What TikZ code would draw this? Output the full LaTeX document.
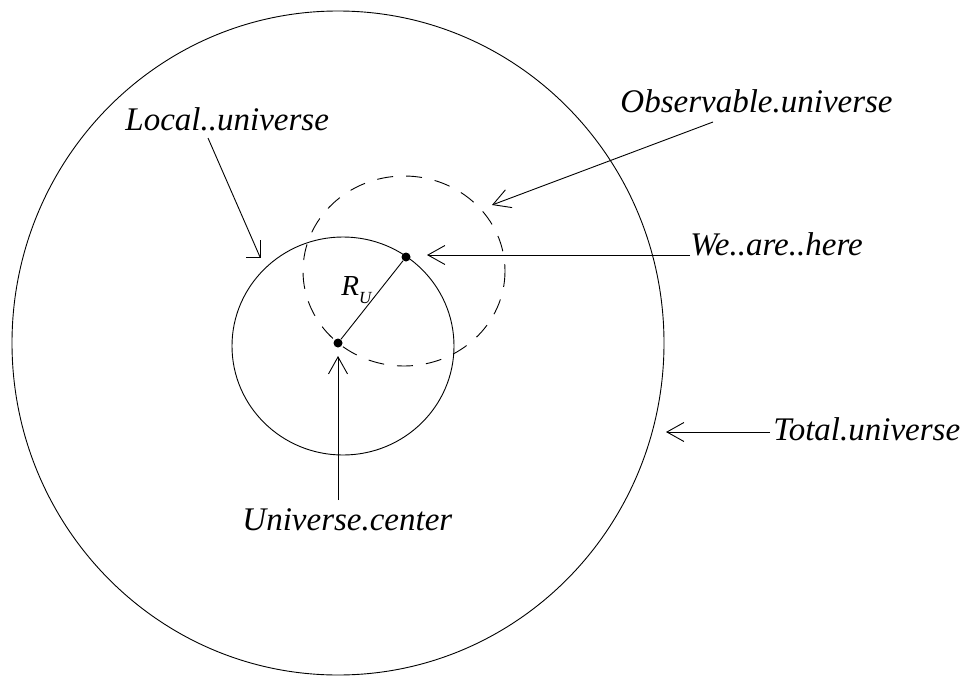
\documentclass[tikz,border=0pt]{standalone}
\usepackage{fontspec}
\setmainfont{Liberation Serif}
\usetikzlibrary{arrows.meta}
\begin{document}
\begin{tikzpicture}[x=1pt,y=-1pt,line width=0.9pt,
  lbl/.style={inner sep=0pt,anchor=base west,font=\fontsize{33}{38}\selectfont\itshape},
  arr/.style={-{Straight Barb[length=17pt,width=19pt,line width=0.9pt]}},
  dotnode/.style={circle,fill,inner sep=0pt,minimum size=9pt},
  obsline/.style={dash pattern=on 16pt off 13pt}]
\useasboundingbox (0,0) rectangle (973,677);
% circles
\draw (338,343) ellipse [x radius=326, y radius=332];
\draw (343,346) ellipse [x radius=111, y radius=109];
\draw[obsline] (404,271) ellipse [x radius=101, y radius=95];
% dots
\node[dotnode] (weDot) at (406,257) {};
\node[dotnode] (ctr) at (338,343) {};
\draw (ctr) -- (weDot);
\node[inner sep=0pt,anchor=base west,font=\fontsize{29}{31}\selectfont\itshape] (ru) at (341,295) {R\raisebox{-8pt}{\fontsize{17}{18}\selectfont U}};
% labels
\node[lbl] (local) at (125,130) {Local..universe};
\node[lbl] (obs) at (620,112) {Observable.universe};
\node[lbl] (we) at (690,255) {We..are..here};
\node[lbl] (total) at (773,440) {Total.universe};
\node[lbl] (uc) at (242,530) {Universe.center};
% arrows
\coordinate (localS) at (208,138);
\coordinate (localT) at (260,257);
\draw (localS) -- (localT);
\draw (localT) ++(0,-17) -- (localT) -- ++(-14,0);
\coordinate (obsS) at (713,122);
\coordinate (obsT) at (492,205);
\draw[arr] (obsS) -- (obsT);
\coordinate (weT) at (427,255);
\draw[arr] (we.base west) -- (weT);
\coordinate (totT) at (666,432);
\draw[arr] ([xshift=-3pt]total.base west |- totT) -- (totT);
\coordinate (ucS) at (338,500);
\coordinate (ucT) at (338,356);
\draw[arr] (ucS) -- (ucT);
\end{tikzpicture}
\end{document}
